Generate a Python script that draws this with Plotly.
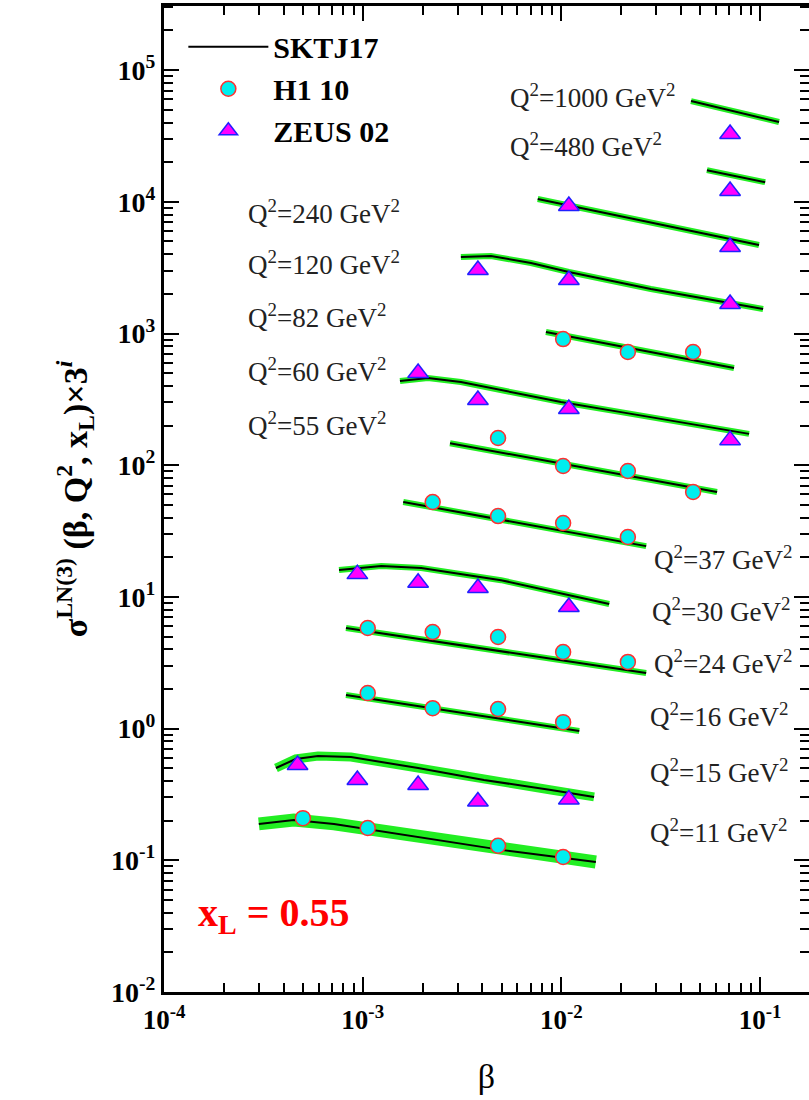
import plotly.graph_objects as go

# ---------------- data ----------------
# SKTJ17 curves: beta, sigma x 3^i
curve_beta_11 = [3.0e-4, 4.5e-4, 7.17e-4, 1.9e-3, 4.97e-3, 1.49e-2]
curve_sig_11 = [0.189, 0.202, 0.189, 0.150, 0.120, 0.097]
curve_beta_15 = [3.66e-4, 4.6e-4, 5.96e-4, 8.73e-4, 1.9e-3, 4.08e-3, 8.87e-3, 1.46e-2]
curve_sig_15 = [0.502, 0.588, 0.619, 0.608, 0.502, 0.407, 0.342, 0.303]
curve_beta_16 = [8.24e-4, 1.23e-2]
curve_sig_16 = [1.80, 0.96]
curve_beta_24 = [8.24e-4, 2.67e-2]
curve_sig_24 = [5.81, 2.64]
curve_beta_30 = [7.6e-4, 1.24e-3, 1.97e-3, 4.97e-3, 1.74e-2]
curve_sig_30 = [16.0, 17.2, 16.6, 13.4, 8.83]
curve_beta_37 = [1.6e-3, 2.67e-2]
curve_sig_37 = [52.6, 24.3]
curve_beta_55 = [2.75e-3, 6.07e-2]
curve_sig_55 = [147, 62.6]
curve_beta_60 = [1.54e-3, 2.13e-3, 3.12e-3, 5.58e-3, 9.95e-3, 1.995e-2, 8.8e-2]
curve_sig_60 = [436, 459, 428, 360, 302, 253, 173]
curve_beta_82 = [8.36e-3, 7.39e-2]
curve_sig_82 = [1026, 547]
curve_beta_120 = [3.12e-3, 4.42e-3, 7.03e-3, 1.09e-2, 2.82e-2, 7.06e-2, 0.1035]
curve_sig_120 = [3810, 3880, 3430, 2930, 2178, 1705, 1535]
curve_beta_240 = [7.6e-3, 9.87e-2]
curve_sig_240 = [10500, 4700]
curve_beta_480 = [5.4e-2, 0.106]
curve_sig_480 = [17400, 14100]
curve_beta_1000 = [4.49e-2, 0.1245]
curve_sig_1000 = [58200, 40400]

# H1 10 data
h1_beta_11 = [5.0e-4, 1.06e-3, 4.8e-3, 1.02e-2]
h1_sig_11 = [0.209, 0.176, 0.129, 0.106]
h1_beta_16 = [1.06e-3, 2.25e-3, 4.8e-3, 1.02e-2]
h1_sig_16 = [1.86, 1.43, 1.41, 1.12]
h1_beta_24 = [1.06e-3, 2.25e-3, 4.8e-3, 1.02e-2, 2.16e-2]
h1_sig_24 = [5.81, 5.41, 4.96, 3.82, 3.21]
h1_beta_37 = [2.25e-3, 4.8e-3, 1.02e-2, 2.16e-2]
h1_sig_37 = [52.6, 41.1, 36.4, 28.5]
h1_beta_55 = [4.8e-3, 1.02e-2, 2.16e-2, 4.6e-2]
h1_sig_55 = [161, 98.6, 90.4, 62.6]
h1_beta_82 = [1.02e-2, 2.16e-2, 4.6e-2]
h1_sig_82 = [908, 724, 724]

# ZEUS 02 data
zeus_beta_15 = [4.7e-4, 9.4e-4, 1.9e-3, 3.8e-3, 1.09e-2]
zeus_sig_15 = [0.53, 0.407, 0.373, 0.28, 0.29]
zeus_beta_30 = [9.4e-4, 1.9e-3, 3.8e-3, 1.09e-2]
zeus_sig_30 = [14.9, 12.8, 11.7, 8.38]
zeus_beta_60 = [1.9e-3, 3.8e-3, 1.09e-2, 7.06e-2]
zeus_sig_60 = [501, 313, 267, 155]
zeus_beta_120 = [3.8e-3, 1.09e-2, 7.06e-2]
zeus_sig_120 = [3040, 2550, 1675]
zeus_beta_240 = [1.09e-2, 7.06e-2]
zeus_sig_240 = [9290, 4540]
zeus_beta_480 = [7.06e-2]
zeus_sig_480 = [12100]
zeus_beta_1000 = [7.06e-2]
zeus_sig_1000 = [32700]

# Q2 labels
left_labels = ["1000", "480", "240", "120", "82", "60", "55"]
right_labels = ["37", "30", "24", "16", "15", "11"]

x_tick_exps = [-4, -3, -2, -1]
y_tick_exps = [-2, -1, 0, 1, 2, 3, 4, 5]

# ---------------- styling / layout ----------------
W, H = 809, 1100
ML, MR, MT, MB = 164, 0, 6, 108
PW, PH = W - ML - MR, H - MT - MB
XR = [-4, -0.754]
YR = [-2, 5.487]

SERIF = "Liberation Serif"
GREEN = "#22ee22"

curves = [
    (curve_beta_11, curve_sig_11, 13),
    (curve_beta_15, curve_sig_15, 9),
    (curve_beta_16, curve_sig_16, 6),
    (curve_beta_24, curve_sig_24, 6),
    (curve_beta_30, curve_sig_30, 6),
    (curve_beta_37, curve_sig_37, 6),
    (curve_beta_55, curve_sig_55, 6),
    (curve_beta_60, curve_sig_60, 6),
    (curve_beta_82, curve_sig_82, 6),
    (curve_beta_120, curve_sig_120, 6),
    (curve_beta_240, curve_sig_240, 6),
    (curve_beta_480, curve_sig_480, 6),
    (curve_beta_1000, curve_sig_1000, 6),
]
h1_sets = [(h1_beta_11, h1_sig_11), (h1_beta_16, h1_sig_16), (h1_beta_24, h1_sig_24),
           (h1_beta_37, h1_sig_37), (h1_beta_55, h1_sig_55), (h1_beta_82, h1_sig_82)]
zeus_sets = [(zeus_beta_15, zeus_sig_15), (zeus_beta_30, zeus_sig_30), (zeus_beta_60, zeus_sig_60),
             (zeus_beta_120, zeus_sig_120), (zeus_beta_240, zeus_sig_240),
             (zeus_beta_480, zeus_sig_480), (zeus_beta_1000, zeus_sig_1000)]

fig = go.Figure()

for bx, by, w in curves:
    fig.add_trace(go.Scatter(x=bx, y=by, mode="lines", line=dict(color=GREEN, width=w),
                             showlegend=False, hoverinfo="skip"))
for i, (bx, by, w) in enumerate(curves):
    fig.add_trace(go.Scatter(x=bx, y=by, mode="lines", line=dict(color="black", width=2),
                             name="SKTJ17", legendgroup="a", showlegend=(i == 0)))

hx, hy = [], []
for bx, by in h1_sets:
    hx += bx + [None]
    hy += by + [None]
fig.add_trace(go.Scatter(x=hx, y=hy, mode="markers", name="H1 10", legendgroup="b",
                         marker=dict(symbol="circle", size=15, color="#00eeee",
                                     line=dict(color="#ff3030", width=1.5))))
zx, zy = [], []
for bx, by in zeus_sets:
    zx += bx + [None]
    zy += by + [None]
fig.add_trace(go.Scatter(x=zx, y=zy, mode="markers", name="ZEUS 02", legendgroup="c",
                         marker=dict(symbol="triangle-up", size=18, color="#ff00ff",
                                     line=dict(color="#2020ff", width=1.5))))
# empty carriers for the tick-only overlay axes
for xa_, ya_ in [("x", "y2"), ("x", "y3"), ("x", "y4"), ("x2", "y")]:
    fig.add_trace(go.Scatter(x=[None], y=[None], xaxis=xa_, yaxis=ya_, showlegend=False))


def px2paper(px, py):
    return (px - ML) / PW, (H - MB - py) / PH


LABEL_FONT = dict(family=SERIF, size=27, color="#222")
annotations = []
left_pos = [(508, 96), (508, 145), (246, 212), (246, 263), (246, 316), (246, 370), (246, 424)]
for lab, (px, py) in zip(left_labels, left_pos):
    xp, yp = px2paper(px, py)
    annotations.append(dict(x=xp, y=yp, xref="paper", yref="paper", xanchor="left", yanchor="middle",
                            text="Q<sup>2</sup>=" + lab + " GeV<sup>2</sup>", showarrow=False,
                            font=LABEL_FONT))
right_pos = [(652, 558), (650, 610), (652, 662), (648, 715), (648, 771), (648, 831)]
for lab, (px, py) in zip(right_labels, right_pos):
    xp, yp = px2paper(px, py)
    annotations.append(dict(x=xp, y=yp, xref="paper", yref="paper", xanchor="left", yanchor="middle",
                            text="Q<sup>2</sup>=" + lab + " GeV<sup>2</sup>", showarrow=False,
                            font=LABEL_FONT))
xp, yp = px2paper(196, 915)
annotations.append(dict(x=xp, y=yp, xref="paper", yref="paper", xanchor="left", yanchor="middle",
                        text="x<sub>L</sub> = 0.55", showarrow=False,
                        font=dict(family=SERIF, size=40, color="#ff0000", weight="bold")))


def all_ticks(exps):
    # decade ticks (labelled) plus 2..9 x 10^e minor ticks (unlabelled)
    vals, texts = [], []
    for e in exps:
        vals.append(10.0 ** e)
        texts.append(f"10<sup>{e}</sup>")
        for k in range(2, 10):
            vals.append(k * 10.0 ** e)
            texts.append("")
    return vals, texts


def main_axis(exps, fontsize, standoff):
    vals, texts = all_ticks(exps)
    return dict(type="log", showgrid=False, zeroline=False, ticks="inside", ticklen=9,
                tickwidth=2, tickcolor="black", tickmode="array",
                tickvals=vals, ticktext=texts, ticklabelstandoff=standoff,
                tickfont=dict(family=SERIF, size=fontsize, color="black", weight="bold"))


def decade_axis(exps, rng):
    return dict(type="log", range=rng, showgrid=False, zeroline=False, ticks="inside", ticklen=15,
                tickwidth=2.2, tickcolor="black", tickmode="array",
                tickvals=[10.0 ** e for e in exps], ticktext=[f"10<sup>{e}</sup>" for e in exps],
                showticklabels=False, showline=False)


right_all = main_axis(y_tick_exps, 28, 0)
right_all.pop("tickfont")
right_all.pop("ticklabelstandoff")

fig.update_layout(
    width=W, height=H, margin=dict(l=ML, r=MR, t=MT, b=MB),
    paper_bgcolor="white", plot_bgcolor="white",
    xaxis=dict(range=XR, showline=True, linewidth=3, linecolor="black", mirror="ticks",
               title=dict(text="β", font=dict(family=SERIF, size=34, color="black"), standoff=30),
               **main_axis(x_tick_exps, 27, 2)),
    xaxis2=dict(overlaying="x", side="bottom", mirror="ticks", **decade_axis(x_tick_exps, XR)),
    yaxis=dict(range=YR, showline=True, linewidth=3, linecolor="black", mirror=False,
               title=dict(text="σ<sup>LN(3)</sup> (β, Q<sup>2</sup>, x<sub>L</sub>)×3<sup><i>i</i></sup>",
                          font=dict(family=SERIF, size=34, color="black", weight="bold"), standoff=14),
               **main_axis(y_tick_exps, 28, 0)),
    yaxis2=dict(range=YR, overlaying="y", side="right", showticklabels=False, showline=False,
                **right_all),
    yaxis3=dict(overlaying="y", side="left", **decade_axis(y_tick_exps, YR)),
    yaxis4=dict(overlaying="y", side="right", **decade_axis(y_tick_exps, YR)),
    legend=dict(x=0.03, y=0.985, xanchor="left", yanchor="top", bgcolor="rgba(0,0,0,0)",
                font=dict(family=SERIF, size=30, color="black", weight="bold"),
                tracegroupgap=0, itemwidth=80),
    annotations=annotations,
    showlegend=True,
)

fig.write_html("out.html")
